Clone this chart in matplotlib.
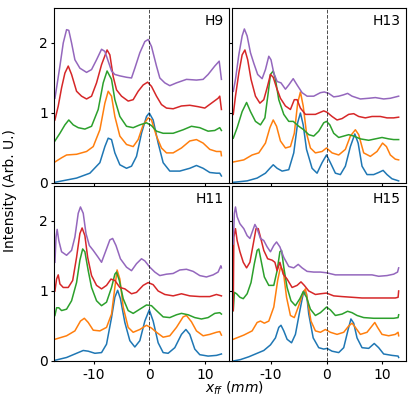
import matplotlib.pyplot as plt

plt.rcParams.update({'font.size': 10, 'axes.unicode_minus': False,
                     'xtick.major.size': 2.5, 'ytick.major.size': 2.5,
                     'xtick.major.pad': 2.2, 'ytick.major.pad': 2.2})

# ---- H9 ----
h9_blue_x = [-17, -13.1, -10.7, -8.9, -8, -7.4, -6.8, -6.2, -5.3, -4.1, -3.2, -2.3, -1.4, -0.5, 0, 0.7, 1.6, 2.5,
             3.7, 5.5, 7.3, 8.5, 9.7, 10.9, 12.1, 12.7, 13]
h9_blue_y = [0.01, 0.07, 0.14, 0.29, 0.52, 0.64, 0.62, 0.43, 0.26, 0.21, 0.24, 0.38, 0.71, 0.95, 1.0, 0.9, 0.57, 0.29,
             0.17, 0.17, 0.21, 0.25, 0.21, 0.15, 0.14, 0.14, 0.1]
h9_orange_x = [-17, -15.8, -14.9, -13.1, -11.3, -10.1, -8.9, -8, -7.4, -6.8, -6.2, -5.3, -4.1, -2.9, -2.0, -1.1, -0.2,
               0.4, 1.3, 2.2, 3.1, 4.3, 5.8, 7.3, 8.5, 9.7, 10.9, 12.1, 12.9, 13]
h9_orange_y = [0.30, 0.36, 0.40, 0.41, 0.45, 0.52, 0.76, 1.14, 1.31, 1.24, 0.95, 0.67, 0.55, 0.52, 0.62, 0.83, 0.93,
               0.9, 0.67, 0.5, 0.43, 0.43, 0.5, 0.6, 0.62, 0.57, 0.48, 0.45, 0.45, 0.39]
h9_green_x = [-17, -16.1, -15.2, -14.5, -13.7, -12.8, -11.6, -10.4, -9.2, -8.3, -7.6, -6.8, -6.2, -5.3, -4.1, -2.9,
              -1.7, -0.5, 0.4, 1.3, 2.5, 4.3, 6.1, 7.6, 9.1, 10.6, 11.8, 12.7, 13]
h9_green_y = [0.6, 0.71, 0.83, 0.9, 0.83, 0.79, 0.77, 0.81, 1.05, 1.43, 1.60, 1.48, 1.19, 0.95, 0.81, 0.79,
              0.83, 0.86, 0.82, 0.74, 0.71, 0.71, 0.76, 0.81, 0.79, 0.74, 0.75, 0.79, 0.75]
h9_red_x = [-17, -16.4, -15.8, -15.2, -14.6, -14.0, -13.1, -12.2, -11.3, -10.4, -9.5, -8.6, -7.6, -7.1, -6.5, -5.9,
            -5.0, -3.8, -2.9, -2.0, -1.1, -0.3, 0.4, 1.3, 2.2, 3.1, 4.3, 5.8, 7.3, 8.8, 10.0, 11.2, 12.4, 12.7, 13]
h9_red_y = [0.9, 1.10, 1.36, 1.57, 1.67, 1.55, 1.31, 1.24, 1.2, 1.24, 1.43, 1.69, 1.90, 1.83, 1.52, 1.33,
            1.24, 1.17, 1.19, 1.31, 1.40, 1.44, 1.38, 1.24, 1.12, 1.07, 1.06, 1.1, 1.11, 1.09, 1.07, 1.14, 1.21, 1.24,
            1.05]
h9_purple_x = [-17, -16.7, -16.1, -15.5, -14.9, -14.5, -14.0, -13.4, -12.5, -11.3, -10.4, -9.5, -8.6, -8.0, -7.4,
               -6.8, -6.2, -5.3, -4.1, -3.2, -2.6, -1.7, -0.8, -0.2, 0.4, 1.3, 1.9, 2.8, 3.7, 4.9, 6.7, 8.5, 9.7,
               10.6, 11.8, 12.6, 13]
h9_purple_y = [1.21, 1.36, 1.67, 2.0, 2.19, 2.18, 2.0, 1.76, 1.64, 1.58, 1.62, 1.76, 1.91, 1.88, 1.74,
               1.60, 1.55, 1.53, 1.51, 1.50, 1.64, 1.86, 2.02, 2.05, 1.95, 1.67, 1.5, 1.43, 1.39, 1.43, 1.48, 1.47,
               1.48, 1.55, 1.67, 1.74, 1.48]

# ---- H13 ----
h13_blue_x = [-16.7, -14.3, -12.5, -11, -10.2, -9.6, -8.9, -8.0, -6.8, -5.9, -5.2, -4.7, -4.2, -3.6, -2.6, -1.7,
              -0.8, 0, 0.7, 1.6, 2.5, 3.4, 4.3, 5.1, 5.7, 6.4, 7.3, 8.5, 9.4, 10.2, 10.9, 11.8, 13]
h13_blue_y = [0.01, 0.03, 0.07, 0.14, 0.21, 0.26, 0.21, 0.17, 0.19, 0.43, 0.86, 1.0, 0.83, 0.48, 0.21, 0.14,
              0.29, 0.40, 0.29, 0.14, 0.12, 0.24, 0.52, 0.70, 0.57, 0.24, 0.12, 0.12, 0.15, 0.18, 0.12, 0.06, 0.03]
h13_orange_x = [-16.8, -14.9, -13.4, -12.2, -11.0, -10.2, -9.6, -9.0, -8.3, -7.4, -6.5, -5.8, -5.2, -4.7, -4.2,
                -3.6, -2.9, -2.0, -0.8, 0, 1.0, 2.2, 3.4, 4.3, 5.2, 5.8, 6.7, 7.9, 9.1, 10.1, 10.8, 11.5, 12.4, 13]
h13_orange_y = [0.30, 0.33, 0.40, 0.43, 0.57, 0.79, 0.9, 0.81, 0.6, 0.5, 0.52, 0.71, 1.14, 1.30, 1.10,
                0.71, 0.5, 0.43, 0.45, 0.5, 0.43, 0.40, 0.48, 0.67, 0.76, 0.69, 0.43, 0.38, 0.45, 0.57, 0.52, 0.40,
                0.34, 0.33]
h13_green_x = [-16.8, -16.1, -15.2, -14.4, -13.7, -12.8, -11.9, -11.1, -10.5, -10.1, -9.6, -9.2, -8.6, -7.7, -6.8,
               -6.0, -5.0, -4.1, -3.2, -2.3, -1.4, -0.5, 0, 0.6, 1.3, 2.2, 3.1, 4.0, 4.9, 6.1, 7.6, 8.8, 10.0, 11.2,
               12.1, 13]
h13_green_y = [0.64, 0.79, 1.02, 1.15, 1.02, 0.88, 0.83, 0.93, 1.29, 1.55, 1.60, 1.48, 1.19, 0.98, 0.88,
               0.88, 0.81, 0.76, 0.69, 0.67, 0.74, 0.86, 0.88, 0.83, 0.71, 0.65, 0.67, 0.69, 0.67, 0.63, 0.61, 0.63,
               0.65, 0.63, 0.62, 0.62]
h13_red_x = [-16.8, -16.4, -15.8, -15.2, -14.7, -14.2, -13.6, -12.8, -12.0, -11.3, -10.7, -10.1, -9.6, -9.0, -8.3,
             -7.4, -6.5, -5.8, -5.3, -4.7, -3.8, -2.9, -2.0, -1.1, -0.5, 0.1, 1.0, 1.9, 2.8, 4.0, 4.9, 5.8, 7.0, 8.2,
             9.7, 10.9, 12.1, 13]
h13_red_y = [0.98, 1.24, 1.57, 1.83, 1.90, 1.76, 1.48, 1.24, 1.14, 1.19, 1.36, 1.55, 1.51, 1.36, 1.21,
             1.10, 1.05, 1.19, 1.19, 1.07, 0.98, 0.98, 0.98, 1.01, 1.03, 1.01, 0.95, 0.90, 0.92, 0.98, 0.99, 0.95,
             0.93, 0.95, 0.95, 0.93, 0.93, 0.94]
h13_purple_x = [-16.8, -16.4, -15.8, -15.2, -14.8, -14.3, -13.7, -13.1, -12.4, -11.6, -11.0, -10.4, -10.0, -9.5,
                -8.9, -8.2, -7.4, -6.8, -6.0, -5.3, -4.4, -3.5, -2.3, -1.1, -0.4, 0.4, 1.3, 2.2, 3.1, 3.8, 4.6, 6.1,
                7.6, 8.8, 10.3, 11.5, 13]
h13_purple_y = [1.31, 1.48, 1.83, 2.10, 2.2, 2.10, 1.86, 1.71, 1.55, 1.49, 1.62, 1.81, 1.76, 1.57,
                1.45, 1.43, 1.34, 1.40, 1.49, 1.40, 1.29, 1.24, 1.24, 1.29, 1.30, 1.28, 1.23, 1.24, 1.26, 1.28, 1.24,
                1.20, 1.21, 1.22, 1.20, 1.21, 1.24]

# ---- H11 ----
h11_blue_x = [-17, -14.9, -13.1, -11.9, -11.0, -9.8, -8.6, -7.7, -6.8, -6.2, -5.7, -5.2, -4.4, -3.5, -2.6, -1.7,
              -0.8, 0, 0.7, 1.6, 2.5, 3.4, 4.6, 5.8, 6.6, 7.3, 8.2, 9.1, 10.6, 12.1, 13]
h11_blue_y = [0.01, 0.05, 0.11, 0.15, 0.14, 0.11, 0.12, 0.24, 0.62, 0.91, 1.01, 0.89, 0.55, 0.29, 0.20, 0.29,
              0.57, 0.73, 0.57, 0.26, 0.12, 0.11, 0.19, 0.38, 0.45, 0.38, 0.17, 0.09, 0.07, 0.08, 0.1]
h11_orange_x = [-17, -14.9, -13.4, -12.4, -11.7, -11.0, -10.1, -8.9, -7.7, -6.8, -6.2, -5.8, -5.3, -4.7, -3.8, -2.9,
                -1.7, -0.5, 0.4, 1.3, 2.5, 3.7, 4.9, 6.1, 6.7, 7.6, 8.5, 9.7, 10.9, 12.1, 12.7, 13]
h11_orange_y = [0.31, 0.36, 0.43, 0.57, 0.61, 0.55, 0.44, 0.43, 0.48, 0.67, 1.05, 1.30, 1.17, 0.77, 0.48, 0.41,
                0.45, 0.51, 0.47, 0.41, 0.34, 0.36, 0.48, 0.63, 0.65, 0.56, 0.43, 0.36, 0.38, 0.41, 0.42, 0.37]
h11_green_x = [-17, -16.7, -16.3, -15.8, -14.9, -14.0, -13.1, -12.5, -12.0, -11.6, -11.0, -10.4, -9.5, -8.6, -7.7,
               -6.8, -6.2, -5.9, -5.4, -4.7, -3.8, -2.9, -1.7, -0.5, 0.4, 1.3, 2.5, 3.7, 4.9, 5.8, 7.0, 8.2, 9.4,
               10.6, 11.8, 12.7, 13]
h11_green_y = [0.65, 0.76, 0.76, 0.72, 0.74, 0.86, 1.12, 1.44, 1.60, 1.56, 1.29, 1.05, 0.86, 0.79, 0.84,
               1.05, 1.24, 1.27, 1.15, 0.89, 0.72, 0.68, 0.74, 0.80, 0.79, 0.72, 0.63, 0.62, 0.66, 0.68, 0.66, 0.62,
               0.60, 0.62, 0.68, 0.69, 0.67]
h11_red_x = [-17, -16.7, -16.4, -16.1, -15.5, -14.6, -13.8, -13.1, -12.5, -12.1, -11.6, -11.1, -10.4, -9.5, -8.6,
             -7.7, -6.9, -6.2, -5.3, -4.4, -3.2, -2.3, -1.1, -0.2, 0.7, 1.6, 2.8, 4.3, 5.8, 7.3, 9.1, 10.9, 12.1, 13]
h11_red_y = [1.00, 1.17, 1.23, 1.10, 1.05, 1.05, 1.15, 1.48, 1.82, 1.90, 1.79, 1.48, 1.22, 1.08, 1.03,
             1.08, 1.17, 1.15, 1.05, 1.03, 0.96, 0.98, 1.08, 1.12, 1.09, 1.00, 0.95, 0.93, 0.96, 0.93, 0.92, 0.92,
             0.95, 0.93]
h11_purple_x = [-17, -16.8, -16.6, -16.3, -15.8, -14.9, -14.0, -13.4, -12.8, -12.4, -11.9, -11.4, -10.8, -10.1,
                -9.2, -8.6, -7.8, -7.1, -6.6, -6.0, -5.2, -4.1, -3.2, -2.3, -1.4, -0.8, 0.1, 1.0, 1.9, 3.1, 4.3, 5.5,
                6.7, 7.9, 9.1, 10.3, 11.5, 12.4, 12.9, 13]
h11_purple_y = [1.41, 1.77, 1.88, 1.72, 1.56, 1.51, 1.58, 1.77, 2.11, 2.20, 2.11, 1.82, 1.65, 1.58,
                1.48, 1.41, 1.58, 1.73, 1.75, 1.65, 1.46, 1.34, 1.29, 1.39, 1.46, 1.43, 1.34, 1.27, 1.22, 1.24, 1.25,
                1.30, 1.31, 1.28, 1.22, 1.20, 1.23, 1.27, 1.36, 1.33]

# ---- H15 ----
h15_blue_x = [-16.8, -15.5, -14.0, -12.5, -11.3, -10.1, -9.2, -8.6, -8.2, -7.7, -7.1, -6.3, -5.6, -4.8, -4.1, -3.6,
              -3.2, -2.4, -1.4, -0.5, 0.1, 1.0, 2.2, 3.1, 3.9, 4.4, 4.9, 5.5, 6.4, 7.6, 8.6, 9.4, 10.3, 11.8, 12.9,
              13]
h15_blue_y = [0.0, 0.02, 0.06, 0.11, 0.15, 0.23, 0.33, 0.48, 0.51, 0.43, 0.31, 0.26, 0.38, 0.72, 1.00, 0.96,
              0.67, 0.33, 0.19, 0.17, 0.18, 0.14, 0.12, 0.19, 0.45, 0.60, 0.54, 0.33, 0.19, 0.18, 0.25, 0.19, 0.10,
              0.08, 0.07, 0.05]
h15_orange_x = [-16.8, -14.9, -13.4, -12.5, -11.9, -11.2, -10.4, -9.5, -8.8, -8.3, -7.8, -7.2, -6.5, -5.8, -5.0,
                -4.2, -3.8, -3.4, -2.8, -2.0, -1.1, -0.2, 0.7, 1.9, 3.1, 4.0, 4.6, 5.2, 6.1, 7.3, 8.2, 8.7, 9.2,
                10.0, 11.2, 12.4, 12.9, 13]
h15_orange_y = [0.31, 0.37, 0.43, 0.55, 0.57, 0.54, 0.57, 0.77, 1.15, 1.34, 1.29, 0.91, 0.65, 0.62, 0.79,
                0.98, 1.03, 0.86, 0.57, 0.43, 0.41, 0.45, 0.41, 0.38, 0.41, 0.50, 0.54, 0.48, 0.38, 0.41, 0.50, 0.55,
                0.48, 0.38, 0.36, 0.38, 0.41, 0.36]
h15_green_x = [-16.8, -16.6, -16.2, -15.6, -15.0, -14.3, -13.6, -13.0, -12.5, -12.2, -11.8, -11.2, -10.4, -9.5,
               -8.9, -8.4, -8.1, -7.7, -7.1, -6.4, -5.6, -4.8, -4.2, -3.6, -2.9, -2.0, -1.1, 0, 0.7, 1.6, 2.8, 3.8,
               4.6, 5.5, 6.7, 8.5, 10.3, 12.1, 12.9, 13]
h15_green_y = [0.72, 0.98, 0.96, 0.91, 0.89, 0.96, 1.12, 1.39, 1.58, 1.60, 1.44, 1.20, 1.08, 1.08,
               1.29, 1.56, 1.58, 1.34, 1.05, 0.86, 0.79, 0.89, 0.99, 0.91, 0.74, 0.65, 0.69, 0.77, 0.73, 0.65, 0.67,
               0.71, 0.69, 0.65, 0.62, 0.61, 0.61, 0.61, 0.62, 0.66]
h15_red_x = [-16.8, -16.7, -16.4, -16.1, -15.6, -15.0, -14.4, -13.8, -13.2, -12.7, -12.3, -11.9, -11.3, -10.6, -9.8,
             -9.3, -8.9, -8.4, -7.8, -7.1, -6.2, -5.3, -4.6, -4.0, -3.2, -2.0, -1.1, 0, 1.3, 2.8, 4.6, 6.4, 8.5,
             10.6, 12.4, 12.9, 13]
h15_red_y = [0.72, 1.77, 1.89, 1.72, 1.56, 1.41, 1.33, 1.41, 1.67, 1.89, 1.89, 1.77, 1.58, 1.46, 1.44,
             1.41, 1.29, 1.41, 1.24, 1.17, 1.05, 1.08, 1.13, 1.08, 1.00, 0.95, 0.96, 0.97, 0.93, 0.92, 0.91, 0.90,
             0.90, 0.90, 0.90, 0.91, 1.00]
h15_purple_x = [-16.8, -16.6, -16.4, -16.1, -15.6, -14.9, -14.3, -13.8, -13.4, -12.9, -12.5, -11.9, -11.3, -10.7,
                -10.1, -9.5, -9.0, -8.4, -7.7, -6.8, -5.9, -5.1, -4.4, -3.5, -2.3, -1.1, 0, 1.6, 3.1, 4.9, 6.7, 8.2,
                9.4, 10.9, 12.1, 12.8, 13]
h15_purple_y = [1.67, 2.11, 2.20, 2.06, 1.96, 1.89, 1.79, 1.75, 1.84, 1.95, 1.89, 1.75, 1.72, 1.63,
                1.56, 1.65, 1.70, 1.63, 1.48, 1.35, 1.33, 1.38, 1.33, 1.28, 1.27, 1.27, 1.26, 1.23, 1.23, 1.23, 1.23,
                1.23, 1.21, 1.22, 1.24, 1.27, 1.33]

colors = ['tab:blue', 'tab:orange', 'tab:green', 'tab:red', 'tab:purple']

panels = [
    ('H9', [(h9_blue_x, h9_blue_y), (h9_orange_x, h9_orange_y), (h9_green_x, h9_green_y),
            (h9_red_x, h9_red_y), (h9_purple_x, h9_purple_y)]),
    ('H13', [(h13_blue_x, h13_blue_y), (h13_orange_x, h13_orange_y), (h13_green_x, h13_green_y),
             (h13_red_x, h13_red_y), (h13_purple_x, h13_purple_y)]),
    ('H11', [(h11_blue_x, h11_blue_y), (h11_orange_x, h11_orange_y), (h11_green_x, h11_green_y),
             (h11_red_x, h11_red_y), (h11_purple_x, h11_purple_y)]),
    ('H15', [(h15_blue_x, h15_blue_y), (h15_orange_x, h15_orange_y), (h15_green_x, h15_green_y),
             (h15_red_x, h15_red_y), (h15_purple_x, h15_purple_y)]),
]

fig, axes = plt.subplots(2, 2, figsize=(4.15, 3.98), dpi=100, sharex=True, sharey=True)
fig.subplots_adjust(left=0.131, right=0.978, top=0.980, bottom=0.093, wspace=0.017, hspace=0.017)

for ax, (name, curves) in zip(axes.flat, panels):
    for (xs, ys), c in zip(curves, colors):
        ax.plot(xs, ys, color=c, lw=1.1)
    ax.axvline(0, color='k', ls='--', lw=0.7, alpha=0.7)
    ax.text(0.97, 0.965, name, transform=ax.transAxes, ha='right', va='top')
    ax.set_xlim(-17.1, 14.3)
    ax.set_ylim(0, 2.5)
    ax.set_xticks([-10, 0, 10])
    ax.set_yticks([0, 1, 2])

fig.text(0.025, 0.52, 'Intensity (Arb. U.)', rotation=90, ha='center', va='center')
fig.text(0.565, 0.024, '$x_{ff}$ $(mm)$', ha='center', va='center')

plt.savefig('out.png', dpi=100)
